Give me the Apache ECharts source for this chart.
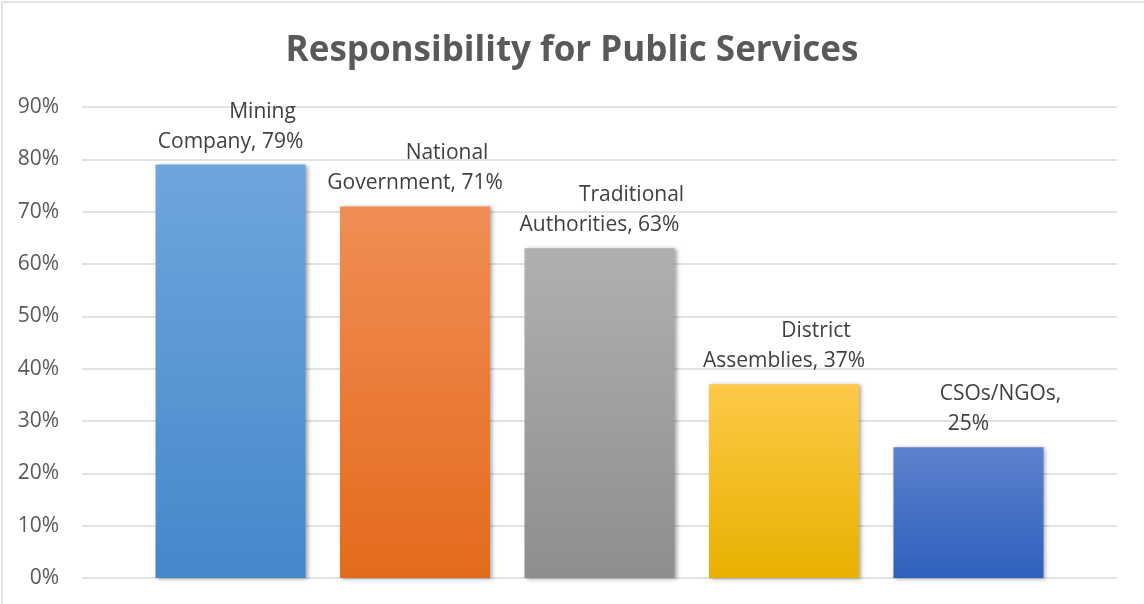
<!DOCTYPE html>
<html>
<head>
<meta charset="utf-8">
<script src="https://cdn.jsdelivr.net/npm/echarts@6/dist/echarts.min.js"></script>
<style>
html,body{margin:0;padding:0;background:#fff;}
#chart{width:1144px;height:604px;}
</style>
</head>
<body>
<div id="chart"></div>
<script>
// ---- data ----
var categories = ['Mining Company', 'National Government', 'Traditional Authorities', 'District Assemblies', 'CSOs/NGOs'];
var values = [0.79, 0.71, 0.63, 0.37, 0.25];
var yTicks = [0, 0.1, 0.2, 0.3, 0.4, 0.5, 0.6, 0.7, 0.8, 0.9];
var titleText = 'Responsibility for Public Services';

// ---- styles ----
var barColors = [
  ['#6fa5de', '#4488ca'],
  ['#f18d56', '#e36b1b'],
  ['#b0b0b0', '#8e8e8e'],
  ['#fec947', '#e8b100'],
  ['#5c82cc', '#2f5fbe']
];

function pct(v) { return Math.round(v * 100) + '%'; }

var chart = echarts.init(document.getElementById('chart'), null, {renderer: 'canvas'});

var seriesData = values.map(function (v, i) {
  return {
    value: [i, v],
    itemStyle: {
      color: new echarts.graphic.LinearGradient(0, 0, 0, 1, [
        {offset: 0, color: barColors[i][0]},
        {offset: 1, color: barColors[i][1]}
      ]),
      shadowColor: 'rgba(0,0,0,0.35)',
      shadowBlur: 4,
      shadowOffsetX: 2,
      shadowOffsetY: 1
    }
  };
});

var option = {
  backgroundColor: '#ffffff',
  animation: false,
  title: {
    text: titleText,
    left: 'center',
    top: 29,
    textStyle: {
      fontFamily: 'Open Sans',
      fontWeight: 'bold',
      fontSize: 35,
      color: '#595959'
    }
  },
  graphic: [{
    type: 'rect',
    shape: {x: 2, y: 2, width: 1200, height: 700},
    style: {fill: 'none', stroke: '#d9d9d9', lineWidth: 1.5},
    silent: true,
    z: 100
  }],
  grid: {left: 82, right: 27, top: 107, bottom: 26},
  xAxis: {
    type: 'value',
    min: -0.805,
    max: 4.805,
    show: false
  },
  yAxis: {
    type: 'value',
    min: yTicks[0],
    max: yTicks[yTicks.length - 1],
    interval: 0.1,
    axisLine: {show: false},
    axisTick: {show: false},
    axisLabel: {
      margin: 23,
      fontFamily: 'Open Sans',
      fontSize: 21,
      color: '#595959',
      formatter: function (v) { return pct(v); }
    },
    splitLine: {lineStyle: {color: '#d9d9d9', width: 1.5}}
  },
  series: [{
    type: 'bar',
    barWidth: 150,
    data: seriesData,
    label: {
      show: true,
      position: 'top',
      distance: 8,
      formatter: function (p) {
        var i = p.value[0];
        var name = categories[i];
        var sp = name.indexOf(' ');
        var l1, l2;
        if (sp < 0) { l1 = name + ','; l2 = pct(values[i]); }
        else { l1 = name.substring(0, sp); l2 = name.substring(sp + 1) + ', ' + pct(values[i]); }
        return '{a|' + l1 + '}\n{b|' + l2 + '}';
      },
      rich: {
        a: {fontFamily: 'Open Sans', fontSize: 21, color: '#404040', lineHeight: 30, padding: [0, 0, 0, 64]},
        b: {fontFamily: 'Open Sans', fontSize: 21, color: '#404040', lineHeight: 30}
      }
    }
  }]
};
chart.setOption(option);
</script>
</body>
</html>
